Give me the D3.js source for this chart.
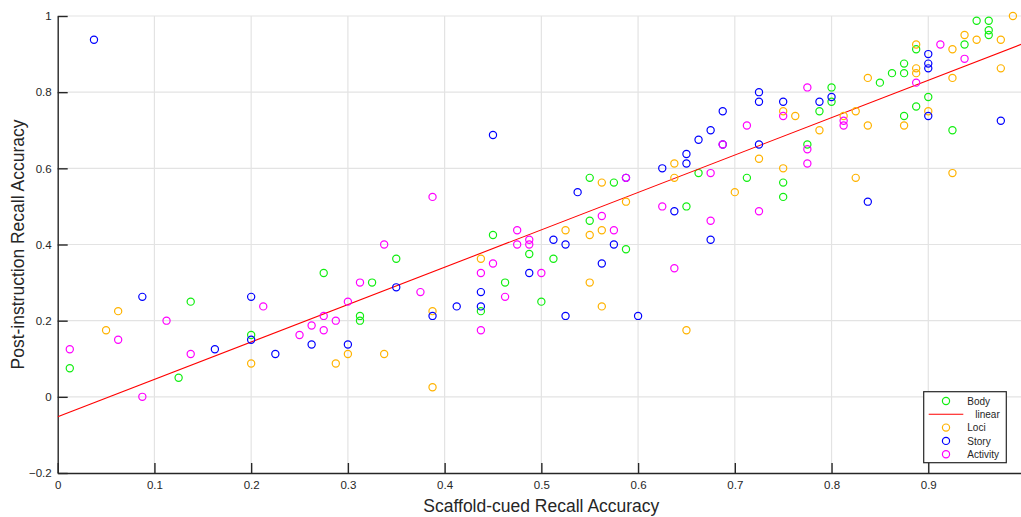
<!DOCTYPE html>
<html><head><meta charset="utf-8">
<script src="https://cdn.jsdelivr.net/npm/d3@7"></script>
<style>
body{margin:0;background:#fff;}
svg{display:block;font-family:"Liberation Sans",Arial,sans-serif;}
</style></head>
<body><svg id="c" width="1021" height="517"></svg>
<script>
// ---- data ----
const body = [[0.0125,0.075],[0.125,0.05],[0.1375,0.25],[0.2,0.1625],[0.275,0.325],[0.3125,0.2125],[0.3125,0.2],[0.325,0.3],[0.35,0.3625],[0.4375,0.225],[0.45,0.425],[0.4625,0.3],[0.4875,0.375],[0.5,0.25],[0.5125,0.3625],[0.55,0.575],[0.55,0.4625],[0.575,0.5625],[0.5875,0.3875],[0.65,0.5],[0.6625,0.5875],[0.7125,0.575],[0.75,0.5625],[0.75,0.525],[0.775,0.6625],[0.7875,0.75],[0.8,0.8125],[0.8,0.775],[0.85,0.825],[0.8625,0.85],[0.875,0.875],[0.875,0.85],[0.875,0.7375],[0.8875,0.9125],[0.8875,0.7625],[0.9,0.7875],[0.925,0.7],[0.9375,0.925],[0.95,0.9875],[0.9625,0.9875],[0.9625,0.9625],[0.9625,0.95]];
const loci = [[0.05,0.175],[0.0625,0.225],[0.2,0.0875],[0.2875,0.0875],[0.3,0.1125],[0.3375,0.1125],[0.3875,0.225],[0.3875,0.025],[0.4375,0.3625],[0.525,0.4375],[0.55,0.425],[0.55,0.3],[0.5625,0.5625],[0.5625,0.4375],[0.5625,0.2375],[0.5875,0.5125],[0.6375,0.6125],[0.6375,0.575],[0.65,0.175],[0.7,0.5375],[0.725,0.625],[0.75,0.75],[0.75,0.6],[0.7625,0.7375],[0.7875,0.7],[0.8125,0.7375],[0.825,0.75],[0.825,0.575],[0.8375,0.8375],[0.8375,0.7125],[0.875,0.7125],[0.8875,0.925],[0.8875,0.8625],[0.8875,0.85],[0.9,0.75],[0.925,0.9125],[0.925,0.8375],[0.925,0.5875],[0.9375,0.95],[0.95,0.9375],[0.975,0.9375],[0.975,0.8625],[0.9875,1.0]];
const story = [[0.0375,0.9375],[0.0875,0.2625],[0.1625,0.125],[0.2,0.2625],[0.2,0.15],[0.225,0.1125],[0.2625,0.1375],[0.3,0.1375],[0.35,0.2875],[0.3875,0.2125],[0.4125,0.2375],[0.4375,0.275],[0.4375,0.2375],[0.45,0.6875],[0.4875,0.325],[0.5125,0.4125],[0.525,0.4],[0.525,0.2125],[0.5375,0.5375],[0.5625,0.35],[0.575,0.4],[0.5875,0.575],[0.6,0.2125],[0.625,0.6],[0.6375,0.4875],[0.65,0.6375],[0.65,0.6125],[0.6625,0.675],[0.675,0.7],[0.675,0.4125],[0.6875,0.75],[0.6875,0.6625],[0.725,0.8],[0.725,0.775],[0.725,0.6625],[0.75,0.775],[0.7875,0.775],[0.8,0.7875],[0.8375,0.5125],[0.9,0.9],[0.9,0.875],[0.9,0.8625],[0.9,0.7375],[0.975,0.725]];
const activity = [[0.0125,0.125],[0.0625,0.15],[0.0875,0],[0.1125,0.2],[0.1375,0.1125],[0.2125,0.2375],[0.25,0.1625],[0.2625,0.1875],[0.275,0.2125],[0.275,0.175],[0.2875,0.2],[0.3,0.25],[0.3125,0.3],[0.3375,0.4],[0.375,0.275],[0.3875,0.525],[0.4375,0.325],[0.4375,0.175],[0.45,0.35],[0.4625,0.2625],[0.475,0.4375],[0.475,0.4],[0.4875,0.4125],[0.4875,0.4],[0.5,0.325],[0.5625,0.475],[0.575,0.4375],[0.5875,0.575],[0.625,0.5],[0.6375,0.3375],[0.675,0.5875],[0.675,0.4625],[0.6875,0.6625],[0.7125,0.7125],[0.725,0.4875],[0.75,0.7375],[0.775,0.8125],[0.775,0.65],[0.775,0.6125],[0.8125,0.725],[0.8125,0.7125],[0.8875,0.825],[0.9125,0.925],[0.9375,0.8875]];
const fitIntercept = -0.0525, fitSlope = 0.982;
const fitRange = [0, 1];
const xTicks = [0,0.1,0.2,0.3,0.4,0.5,0.6,0.7,0.8,0.9];
const yTicks = [-0.2,0,0.2,0.4,0.6,0.8,1];
const xTitle = "Scaffold-cued Recall Accuracy";
const yTitle = "Post-instruction Recall Accuracy";

// ---- drawing ----
const svg = d3.select("#c");
const L = 57.7, R = 1025, T = 16, B = 473;
const x = d3.scaleLinear().domain([0,1]).range([L,R]);
const y = d3.scaleLinear().domain([-0.2,1]).range([B,T]);
const ink = "#262626";

// grid
const g = svg.append("g");
g.selectAll("line.gx").data(xTicks.filter(d=>d>0)).join("line")
  .attr("x1",d=>x(d)).attr("x2",d=>x(d)).attr("y1",B).attr("y2",T)
  .attr("stroke","#e3e3e3").attr("stroke-width",1.2);
g.selectAll("line.gy").data(yTicks.filter(d=>d>-0.2)).join("line")
  .attr("x1",L).attr("x2",R).attr("y1",d=>y(d)).attr("y2",d=>y(d))
  .attr("stroke","#e3e3e3").attr("stroke-width",1.2);

const fmt = d => d3.format("~g")(+d.toFixed(2));
// axes
const ax = svg.append("g").attr("transform",`translate(0,${B})`)
  .call(d3.axisBottom(x).tickValues(xTicks).tickFormat(fmt).tickSizeInner(-10).tickSizeOuter(0).tickPadding(8));
const ay = svg.append("g").attr("transform",`translate(${L},0)`)
  .call(d3.axisLeft(y).tickValues(yTicks).tickFormat(fmt).tickSizeInner(-10).tickSizeOuter(0).tickPadding(6));
[ax,ay].forEach(a=>{
  a.select(".domain").attr("stroke",ink).attr("stroke-width",1.4);
  a.selectAll(".tick line").attr("stroke",ink).attr("stroke-width",1.4);
  a.selectAll(".tick text").attr("fill",ink).style("font-size","11.5px").style("font-family","'Liberation Sans',Arial,sans-serif");
});

// clip
svg.append("clipPath").attr("id","clip").append("rect").attr("x",L).attr("y",T-6).attr("width",R-L+10).attr("height",B-T+6);
const plot = svg.append("g").attr("clip-path","url(#clip)");

function scatter(data,color){
  plot.append("g").selectAll("circle").data(data).join("circle")
    .attr("cx",d=>x(d[0])).attr("cy",d=>y(d[1])).attr("r",3.6)
    .attr("fill","none").attr("stroke",color).attr("stroke-width",1.2);
}
const C = {body:"#11ee11", loci:"#ffb300", story:"#0000ff", activity:"#ff00ff", fit:"#ff0000"};
scatter(body,C.body);
plot.append("line")
  .attr("x1",x(fitRange[0])).attr("y1",y(fitIntercept+fitSlope*fitRange[0]))
  .attr("x2",x(fitRange[1])).attr("y2",y(fitIntercept+fitSlope*fitRange[1]))
  .attr("stroke",C.fit).attr("stroke-width",1.1);
scatter(loci,C.loci);
scatter(story,C.story);
scatter(activity,C.activity);

// titles
svg.append("text").attr("x",x(0.5)).attr("y",512).attr("text-anchor","middle")
  .attr("fill",ink).style("font-size","17.5px").text(xTitle);
svg.append("text").attr("transform",`translate(24,${y(0.4)}) rotate(-90)`).attr("text-anchor","middle")
  .attr("fill",ink).style("font-size","17.5px").text(yTitle);

// legend
const lg = svg.append("g");
lg.append("rect").attr("x",923.7).attr("y",391.7).attr("width",82.6).attr("height",71)
  .attr("fill","#fff").attr("stroke",ink).attr("stroke-width",1.2);
const items = [["Body","o",C.body],[" linear","l",C.fit],["Loci","o",C.loci],["Story","o",C.story],["Activity","o",C.activity]];
items.forEach((it,i)=>{
  const cy = 401 + i*13.3;
  if(it[1]==="o") lg.append("circle").attr("cx",946).attr("cy",cy).attr("r",3.6).attr("fill","none").attr("stroke",it[2]).attr("stroke-width",1.2);
  else lg.append("line").attr("x1",928.7).attr("x2",963.3).attr("y1",cy).attr("y2",cy).attr("stroke",it[2]).attr("stroke-width",1.1);
  lg.append("text").attr("x",it[1]==="l"?975.3:967.3).attr("y",cy+3.6).attr("fill",ink).style("font-size","10px").text(it[0].trim());
});
</script></body></html>
